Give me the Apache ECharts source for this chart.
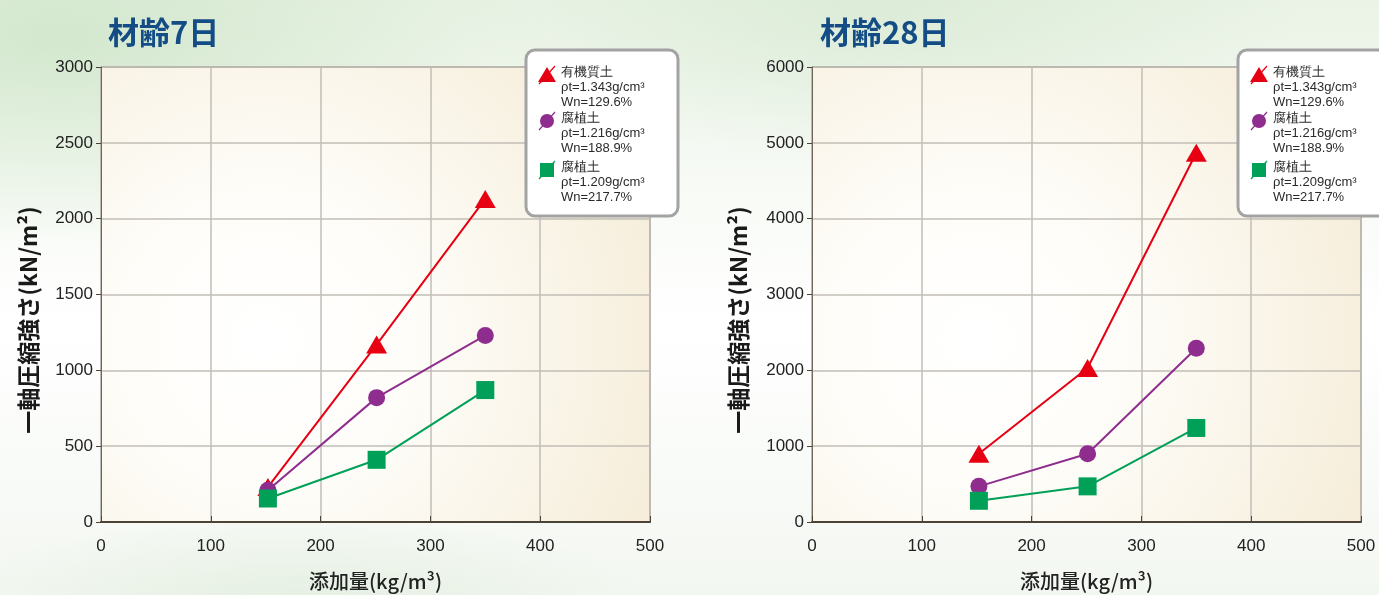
<!DOCTYPE html>
<html>
<head>
<meta charset="utf-8">
<script src="https://cdn.jsdelivr.net/npm/echarts@6/dist/echarts.min.js"></script>
<style>
html,body{margin:0;padding:0;width:1379px;height:595px;overflow:hidden;}
body{background:
 radial-gradient(ellipse 700px 300px at 60px 40px, rgba(200,226,194,0.7), rgba(255,255,255,0) 70%),
 radial-gradient(ellipse 600px 220px at 880px 10px, rgba(208,229,203,0.55), rgba(255,255,255,0) 70%),
 radial-gradient(ellipse 500px 120px at 300px 600px, rgba(215,232,212,0.5), rgba(255,255,255,0) 70%),
 linear-gradient(180deg, #eaf3e6 0%, #f7faf5 30%, #ffffff 55%, #f3f7f1 100%);}
#c{width:1379px;height:595px;}
</style>
</head>
<body>
<div id="c"></div>
<script>
// ---- data ----
var titles = ['材齢7日', '材齢28日'];
var xValues = [152, 251, 350];
var day7Organic = [230, 1170, 2130];
var day7Humus1 = [210, 820, 1230];
var day7Humus2 = [155, 410, 870];
var day28Organic = [900, 2030, 4870];
var day28Humus1 = [470, 900, 2290];
var day28Humus2 = [280, 470, 1240];
var xTicks = [0, 100, 200, 300, 400, 500];
var yMax7 = 3000, yStep7 = 500;
var yMax28 = 6000, yStep28 = 1000;
var seriesNames = ['有機質土', '腐植土', '腐植土'];
var seriesProps = ['ρt=1.343g/cm³\nWn=129.6%', 'ρt=1.216g/cm³\nWn=188.9%', 'ρt=1.209g/cm³\nWn=217.7%'];
var yAxisName = '一軸圧縮強さ(kN/m²)';
var xAxisName = '添加量(kg/m³)';

var colors = ['#e60012', '#8e2d8e', '#00a058'];
var symbols = ['triangle', 'circle', 'rect'];
var symbolSizes = [[21, 18], 17, 18];

function pairs(ys){ return xValues.map(function(x,i){ return [x, ys[i]]; }); }

var numFont = "'Liberation Sans',Arial,sans-serif";
var jpFont = "'Noto Sans CJK JP','Noto Sans',sans-serif";

var plotBg = {
  type: 'radial', x: 0.3, y: 0.6, r: 0.9,
  colorStops: [{offset: 0, color: '#ffffff'}, {offset: 0.35, color: '#fefdf9'}, {offset: 1, color: '#f6eedb'}]
};

var grids = [
  {left: 101, right: 729, top: 67, bottom: 73, outerBoundsMode: 'none', show: true, backgroundColor: plotBg, borderColor: '#6e655b', borderWidth: 1},
  {left: 812, right: 18, top: 67, bottom: 73, outerBoundsMode: 'none', show: true, backgroundColor: plotBg, borderColor: '#6e655b', borderWidth: 1}
];

function plain(v){ return String(v); }

function xAxis(i){
  return {
    type: 'value', gridIndex: i, min: 0, max: 500, interval: 100,
    name: xAxisName, nameLocation: 'middle', nameGap: 49,
    nameTextStyle: {fontFamily: jpFont, fontSize: 20, color: '#222', fontWeight: 500},
    axisLine: {show: true, lineStyle: {color: '#4d4236', width: 2}},
    axisTick: {show: true, inside: true, length: 6, lineStyle: {color: '#4d4236', width: 1}},
    axisLabel: {fontFamily: numFont, fontSize: 17, color: '#222', margin: 16, formatter: plain},
    splitLine: {show: true, lineStyle: {color: '#c2beb6', width: 1.5}}
  };
}
function yAxis(i, max, step){
  return {
    type: 'value', gridIndex: i, min: 0, max: max, interval: step,
    axisLine: {show: true, lineStyle: {color: '#6e655b', width: 1}},
    axisTick: {show: true, length: 5, lineStyle: {color: '#4d4236', width: 1}},
    axisLabel: {fontFamily: numFont, fontSize: 17, color: '#222', margin: 8, formatter: plain},
    splitLine: {show: true, lineStyle: {color: '#c2beb6', width: 1.5}}
  };
}

var allData = [[day7Organic, day7Humus1, day7Humus2], [day28Organic, day28Humus1, day28Humus2]];
var series = [];
allData.forEach(function(group, g){
  group.forEach(function(ys, k){
    series.push({
      type: 'line', name: seriesNames[k] + k, xAxisIndex: g, yAxisIndex: g,
      data: pairs(ys), symbol: symbols[k], symbolSize: symbolSizes[k],
      itemStyle: {color: colors[k]}, lineStyle: {color: colors[k], width: 2},
      z: 2 + k, animation: false
    });
  });
});

function legendGraphic(bx){
  var children = [{
    type: 'rect', shape: {x: bx, y: 50, width: 152, height: 166, r: 9},
    style: {fill: '#ffffff', stroke: '#a3a3a3', lineWidth: 3}, z: 10
  }];
  var ys = [72, 118, 167];
  for (var k = 0; k < 3; k++){
    var sy = ys[k] + 3, sx = bx + 21;
    children.push({type: 'line', shape: {x1: sx - 8, y1: sy + 9, x2: sx + 8, y2: sy - 9},
      style: {stroke: colors[k], lineWidth: 1.2}, z: 11});
    var sym;
    if (k === 0) sym = {type: 'polygon', shape: {points: [[sx, sy - 8], [sx + 9, sy + 7], [sx - 9, sy + 7]]}};
    else if (k === 1) sym = {type: 'circle', shape: {cx: sx, cy: sy, r: 7}};
    else sym = {type: 'rect', shape: {x: sx - 7, y: sy - 7, width: 14, height: 14}};
    sym.style = {fill: colors[k]}; sym.z = 12;
    children.push(sym);
    children.push({type: 'text', x: bx + 35, y: ys[k] - 7, z: 12,
      style: {text: seriesNames[k] + '\n' + seriesProps[k], fontFamily: "'Liberation Sans',Arial,sans-serif",
        fontSize: 13, lineHeight: 14.8, fill: '#2a2a2a'}});
  }
  return {type: 'group', children: children};
}

var option = {
  animation: false,
  grid: grids,
  xAxis: [xAxis(0), xAxis(1)],
  yAxis: [yAxis(0, yMax7, yStep7), yAxis(1, yMax28, yStep28)],
  title: [
    {text: titles[0], left: 103, top: 12, textStyle: {fontFamily: jpFont, fontSize: 31, fontWeight: 'bold', color: '#144c86'}},
    {text: titles[1], left: 815, top: 12, textStyle: {fontFamily: jpFont, fontSize: 31, fontWeight: 'bold', color: '#144c86'}}
  ],
  series: series,
  graphic: [
    {type: 'text', x: 28, y: 320, rotation: Math.PI / 2, z: 5,
      style: {text: yAxisName, fontFamily: jpFont, fontSize: 23, fontWeight: 'bold', fill: '#1a1a1a', align: 'center', verticalAlign: 'middle'}},
    {type: 'text', x: 738, y: 320, rotation: Math.PI / 2, z: 5,
      style: {text: yAxisName, fontFamily: jpFont, fontSize: 23, fontWeight: 'bold', fill: '#1a1a1a', align: 'center', verticalAlign: 'middle'}},
    legendGraphic(526),
    legendGraphic(1238)
  ]
};

var chart = echarts.init(document.getElementById('c'));
chart.setOption(option);
</script>
</body>
</html>
